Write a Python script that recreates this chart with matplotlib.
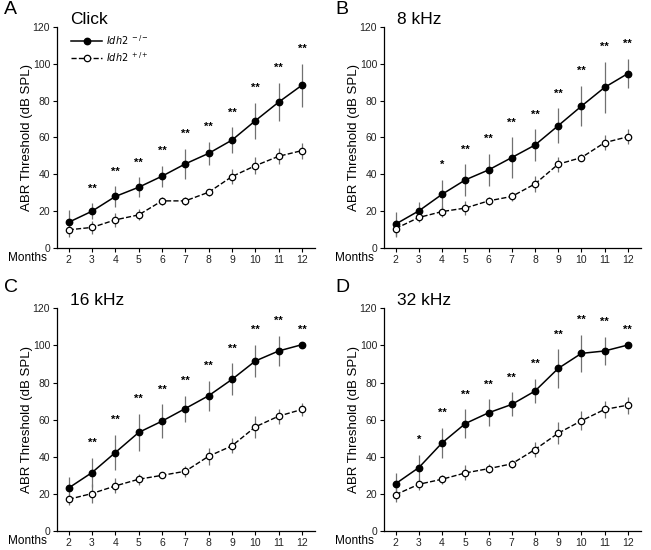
import matplotlib
matplotlib.use('Agg')
import matplotlib.pyplot as plt
import numpy as np

plt.rcParams['font.family'] = ['Liberation Sans', 'DejaVu Sans']

months = [2, 3, 4, 5, 6, 7, 8, 9, 10, 11, 12]
panel_letters = ['A', 'B', 'C', 'D']
panel_titles = ['Click', '8 kHz', '16 kHz', '32 kHz']

# Idh2 -/- (knockout) means and SD
ko_click = [14, 20, 28, 33, 39, 45.7, 51.4, 58.6, 69.1, 79.2, 88.4]
ko_click_err = [6.5, 4.3, 5.5, 5.5, 5.8, 8.3, 6.3, 6.9, 9.7, 10.5, 11.7]
ko_8k = [13, 20.2, 29.2, 37, 42.4, 49.1, 55.9, 66.4, 77, 87.2, 94.7]
ko_8k_err = [6.7, 5, 8, 8.5, 8.7, 11, 8.5, 9.4, 11, 14, 8]
ko_16k = [23.2, 31.5, 42.3, 53.1, 59.2, 66, 72.9, 81.7, 91.6, 97, 100.4]
ko_16k_err = [6, 8, 9.4, 10.2, 9, 7, 8, 8.6, 8.6, 8, 0]
ko_32k = [25.5, 34.2, 47.5, 57.9, 63.7, 68.2, 75.4, 87.6, 95.7, 97, 100.2]
ko_32k_err = [6, 6.7, 8, 7.6, 7.2, 6.5, 6.5, 10.3, 10, 7.7, 0]

# Idh2 +/+ (wild type) means and SD
wt_click = [9.9, 11.2, 15.3, 18, 25.6, 25.6, 30.3, 38.8, 44.7, 49.8, 52.9]
wt_click_err = [3.8, 3.5, 3.7, 3, 2, 2, 2, 4, 4.6, 4.3, 4.3]
wt_8k = [10.6, 16.6, 19.8, 21.7, 25.6, 28, 34.8, 45.5, 49.1, 57.2, 60.4]
wt_8k_err = [4.6, 2.5, 3, 4, 2, 2.5, 4.5, 4, 2, 4, 4]
wt_16k = [17.1, 20.2, 24.3, 27.9, 30, 32.2, 40.3, 45.9, 56.1, 61.9, 65.5]
wt_16k_err = [3, 5, 4, 3, 0.5, 3, 4.5, 4, 6, 4, 3.5]
wt_32k = [19.6, 25.2, 27.9, 31.3, 33.6, 36.2, 43.9, 52.7, 59.4, 65.5, 67.8]
wt_32k_err = [4, 3, 2.5, 4, 2.5, 2, 4, 6, 5, 4.5, 4.5]

# significance marks per month
sig_click = ['', '**', '**', '**', '**', '**', '**', '**', '**', '**', '**']
sig_8k = ['', '', '*', '**', '**', '**', '**', '**', '**', '**', '**']
sig_16k = ['', '**', '**', '**', '**', '**', '**', '**', '**', '**', '**']
sig_32k = ['', '*', '**', '**', '**', '**', '**', '**', '**', '**', '**']

ko_all = [ko_click, ko_8k, ko_16k, ko_32k]
ko_err_all = [ko_click_err, ko_8k_err, ko_16k_err, ko_32k_err]
wt_all = [wt_click, wt_8k, wt_16k, wt_32k]
wt_err_all = [wt_click_err, wt_8k_err, wt_16k_err, wt_32k_err]
sig_all = [sig_click, sig_8k, sig_16k, sig_32k]

fig = plt.figure(figsize=(6.51, 5.5), dpi=100)

# axes rectangles [left, bottom, width, height]
rects = [
    [0.0876, 0.549, 0.396, 0.402],
    [0.590, 0.549, 0.394, 0.402],
    [0.0876, 0.0345, 0.396, 0.405],
    [0.590, 0.0345, 0.394, 0.405],
]
letter_pos = [(0.006, 0.983), (0.515, 0.983), (0.006, 0.478), (0.515, 0.478)]

err_color = '#707070'

for i in range(4):
    ax = fig.add_axes(rects[i])
    ko = np.array(ko_all[i])
    ko_e = np.array(ko_err_all[i])
    wt = np.array(wt_all[i])
    wt_e = np.array(wt_err_all[i])

    ax.errorbar(months, wt, yerr=wt_e, fmt='none', ecolor=err_color, elinewidth=0.9, capsize=0, zorder=2)
    ax.errorbar(months, ko, yerr=ko_e, fmt='none', ecolor=err_color, elinewidth=0.9, capsize=0, zorder=2)
    ax.plot(months, ko, '-o', color='black', lw=1.1, markersize=4.6,
            markerfacecolor='black', label=r'$\it{Idh2}$$^{\ -/-}$', zorder=3)
    ax.plot(months, wt, '--o', color='black', lw=1.0, markersize=4.6,
            markerfacecolor='white', markeredgewidth=0.9, label=r'$\it{Idh2}$$^{\ +/+}$', zorder=3)

    for m, y, e, s in zip(months, ko, ko_e, sig_all[i]):
        if s:
            ax.text(m, y + e + 8, s, ha='center', va='center', fontsize=8, fontweight='bold')

    ax.set_xlim(1.5, 12.55)
    ax.set_ylim(0, 120)
    ax.set_xticks(months)
    ax.set_yticks(np.arange(0, 121, 20))
    ax.tick_params(axis='both', direction='out', length=3, width=0.8, labelsize=7.5, pad=2,
                   labelcolor='#222222')
    ax.spines['top'].set_visible(False)
    ax.spines['right'].set_visible(False)
    ax.spines['left'].set_linewidth(0.9)
    ax.spines['bottom'].set_linewidth(0.9)
    ax.set_ylabel('ABR Threshold (dB SPL)', fontsize=9.5, labelpad=0)
    ax.text(-0.115, -0.047, 'Months', transform=ax.transAxes, ha='center', va='center', fontsize=8.5)
    ax.text(0.05, 1.0, panel_titles[i], transform=ax.transAxes, ha='left', va='bottom', fontsize=12.5)
    fig.text(letter_pos[i][0], letter_pos[i][1], panel_letters[i], ha='left', va='center', fontsize=14)

    if i == 0:
        ax.legend(loc='upper left', bbox_to_anchor=(0.04, 0.99), frameon=False, fontsize=7,
                  handlelength=3.2, handletextpad=0.4, labelspacing=0.3, borderaxespad=0)

fig.savefig('out.png', dpi=100)
